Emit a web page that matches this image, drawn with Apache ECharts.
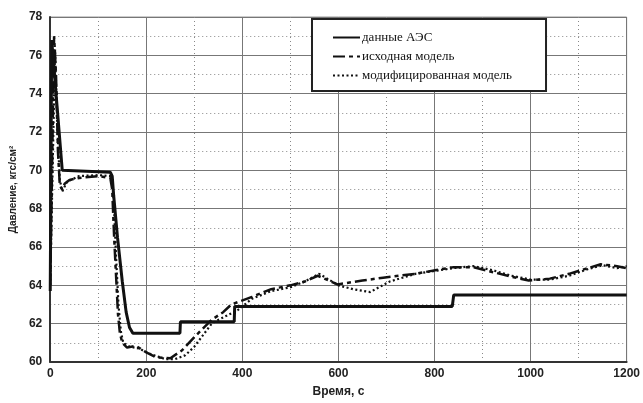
<!DOCTYPE html>
<html>
<head>
<meta charset="utf-8">
<script src="https://cdn.jsdelivr.net/npm/echarts@6/dist/echarts.min.js"></script>
<style>
  html, body { margin: 0; padding: 0; background: #fff; }
  #chart { width: 643px; height: 403px; }
</style>
</head>
<body>
<div id="chart"></div>
<script>
// данные АЭС
const aesT = [0, 3, 25, 125, 129, 132, 140, 150, 158, 165, 172, 270, 271, 383, 384, 837, 840, 1200]
const aesP = [63.7, 76.8, 70, 69.9, 69.7, 68.7, 66.5, 64.2, 62.6, 61.8, 61.5, 61.5, 62.1, 62.1, 62.9, 62.9, 63.5, 63.5]

// исходная модель
const baseT = [0, 8, 12, 16, 20, 25, 30, 40, 60, 100, 125, 129, 133, 137, 141, 145, 150, 160, 178, 200, 220, 250, 274, 300, 336, 360, 377, 420, 460, 500, 530, 557, 598, 650, 693, 760, 804, 840, 880, 920, 960, 996, 1040, 1080, 1120, 1146, 1180, 1200]
const baseP = [64, 77, 75, 71, 69.2, 69.0, 69.3, 69.5, 69.6, 69.7, 69.6, 69.0, 66.5, 64.5, 62.5, 61.5, 61.0, 60.75, 60.85, 60.5, 60.25, 60.2, 60.6, 61.3, 62.2, 62.6, 63.0, 63.4, 63.8, 64.0, 64.2, 64.5, 64.05, 64.25, 64.4, 64.6, 64.8, 64.95, 64.95, 64.7, 64.45, 64.25, 64.35, 64.6, 64.9, 65.1, 65.0, 64.9]

// модифицированная модель
const modT = [0, 10, 15, 20, 25, 35, 60, 100, 127, 132, 137, 142, 147, 152, 165, 185, 210, 240, 260, 281, 300, 336, 350, 390, 420, 460, 500, 530, 560, 600, 630, 666, 707, 760, 840, 880, 920, 960, 1000, 1040, 1080, 1120, 1150, 1180, 1200]
const modP = [64, 76.3, 72, 69.5, 68.9, 69.4, 69.7, 69.75, 69.7, 68.5, 65.5, 63, 61.6, 61.0, 60.8, 60.7, 60.4, 60.15, 60.15, 60.35, 60.8, 62.0, 62.2, 62.7, 63.3, 63.7, 63.9, 64.2, 64.6, 64.0, 63.8, 63.65, 64.2, 64.6, 64.9, 65.0, 64.8, 64.5, 64.3, 64.3, 64.5, 64.85, 65.05, 64.9, 65.0]

const zip = (t, p) => t.map((v, i) => [v, p[i]])

const chart = echarts.init(document.getElementById('chart'))

const axisFont = { fontFamily: 'Liberation Sans', fontWeight: 'bold', fontSize: 12, color: '#222' }

const option = {
  animation: false,
  backgroundColor: '#fff',
  grid: { left: 47, right: 14, top: 17, bottom: 31, show: true, borderColor: '#999', borderWidth: 1 },
  legend: {
    orient: 'vertical',
    left: 312,
    top: 19,
    padding: [12, 34, 9, 20],
    itemGap: 6,
    itemWidth: 27,
    itemHeight: 10,
    borderColor: '#222',
    borderWidth: 2,
    backgroundColor: '#fff',
    itemStyle: { opacity: 0 },
    textStyle: { fontFamily: 'Liberation Serif', fontSize: 13, color: '#111', padding: [0, 0, 0, -3] },
    data: ['данные АЭС', 'исходная модель', 'модифицированная модель']
  },
  xAxis: {
    type: 'value',
    min: 0,
    max: 1200,
    interval: 200,
    name: 'Время, с',
    nameLocation: 'middle',
    nameGap: 24,
    nameTextStyle: axisFont,
    axisLine: { lineStyle: { color: '#333', width: 2 } },
    axisTick: { show: false },
    axisLabel: Object.assign({ margin: 6, formatter: v => String(v) }, axisFont),
    splitLine: { lineStyle: { color: '#777', width: 1 } },
    minorTick: { show: false, splitNumber: 2 },
    minorSplitLine: { show: true, lineStyle: { color: '#888', type: [1, 3], width: 1 } }
  },
  yAxis: {
    type: 'value',
    min: 60,
    max: 78,
    interval: 2,
    name: 'Давление, кгс/см²',
    nameLocation: 'middle',
    nameGap: 28,
    nameTextStyle: Object.assign({}, axisFont, { fontSize: 10 }),
    axisLine: { show: true, lineStyle: { color: '#333', width: 2 } },
    axisTick: { show: false },
    axisLabel: Object.assign({ margin: 8 }, axisFont),
    splitLine: { lineStyle: { color: '#777', width: 1 } },
    minorTick: { show: false, splitNumber: 2 },
    minorSplitLine: { show: true, lineStyle: { color: '#888', type: [1, 3], width: 1 } }
  },
  series: [
    {
      name: 'данные АЭС',
      type: 'line',
      symbol: 'none',
      data: zip(aesT, aesP),
      lineStyle: { color: '#111', width: 3 },
      itemStyle: { color: '#111' },
      z: 3
    },
    {
      name: 'исходная модель',
      type: 'line',
      symbol: 'none',
      data: zip(baseT, baseP),
      lineStyle: { color: '#111', width: 2.5, type: [12, 4, 4, 4] },
      itemStyle: { color: '#111' },
      z: 2
    },
    {
      name: 'модифицированная модель',
      type: 'line',
      symbol: 'none',
      data: zip(modT, modP),
      lineStyle: { color: '#111', width: 2.2, type: [2, 2.5] },
      itemStyle: { color: '#111' },
      z: 2
    }
  ]
}

chart.setOption(option)
</script>
</body>
</html>
